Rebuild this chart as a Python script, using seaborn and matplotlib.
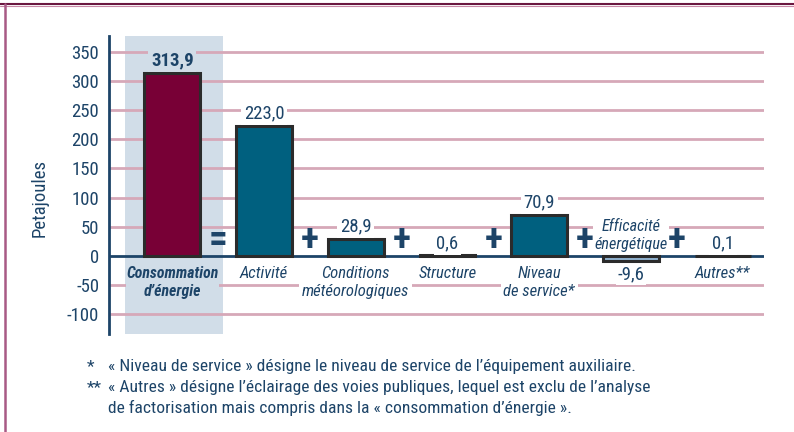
import pandas as pd
import matplotlib.pyplot as plt
import seaborn as sns
from matplotlib import font_manager
from matplotlib.lines import Line2D

# data (petajoules)
categories = ['Consommation\nd\u2019énergie', 'Activité', 'Conditions\nmétéorologiques',
              'Structure', 'Niveau\nde service*', 'Efficacité\nénergétique', 'Autres**']
values = [313.9, 223.0, 28.9, 0.6, 70.9, -9.6, 0.1]
value_labels = ['313,9', '223,0', '28,9', '0,6', '70,9', '-9,6', '0,1']
operators = ['=', '+', '+', '+', '+', '+']
bar_colors = ['#780036', '#00607f', '#00607f', '#00607f', '#00607f', '#8fb1cf', '#00607f']
y_ticks = [-100, -50, 0, 50, 100, 150, 200, 250, 300, 350]
footnotes = [
    ('*', '\u00ab Niveau de service \u00bb désigne le niveau de service de l\u2019équipement auxiliaire.'),
    ('**', '\u00ab Autres \u00bb désigne l\u2019éclairage des voies publiques, lequel est exclu de l\u2019analyse'),
    ('', 'de factorisation mais compris dans la \u00ab consommation d\u2019énergie \u00bb.'),
]

navy = '#1d4468'
grid_pink = '#d6a8b8'
band_blue = '#d1dde8'

sns.set_theme(style='white')
installed = {f.name for f in font_manager.fontManager.ttflist}
font = 'Roboto'
for name in ['Liberation Sans Narrow', 'Roboto Condensed', 'Open Sans Condensed', 'Roboto']:
    if name in installed:
        font = name
        break
plt.rcParams['font.family'] = [font, 'DejaVu Sans']
plt.rcParams['text.color'] = navy

fig = plt.figure(figsize=(7.94, 4.32), dpi=100)
ax = fig.add_axes([109 / 794, 1 - 334 / 432, 655 / 794, 298 / 432])

df = pd.DataFrame({'categorie': categories, 'valeur': values})
sns.barplot(data=df, x='categorie', y='valeur', hue='categorie', palette=bar_colors,
            saturation=1, legend=False, width=0.61, edgecolor='#2b2b2b', linewidth=2.2,
            ax=ax, zorder=4)

ax.set_xlim(-0.69, 6.45)
ax.set_ylim(-134.3, 377.5)

# highlighted first column
ax.axvspan(-0.52, 0.55, color=band_blue, zorder=0, lw=0)
for t in y_ticks:
    if t == 0:
        ax.axhline(0, color=navy, lw=2, zorder=3)
    else:
        ax.axhline(t, color=grid_pink, lw=2, zorder=1)

ax.set_yticks(y_ticks)
ax.set_yticklabels([str(t) for t in y_ticks], fontsize=13.5, color=navy)
ax.tick_params(axis='y', length=0, pad=7)
ax.set_xticks([])
ax.set_xlabel('')
ax.set_ylabel('')
for s in ['top', 'right', 'bottom']:
    ax.spines[s].set_visible(False)
ax.spines['left'].set_color(navy)
ax.spines['left'].set_linewidth(2)
fig.text(40 / 794, 1 - 198 / 432, 'Petajoules', rotation=90, fontsize=13.5,
         color=navy, ha='center', va='center')

for i, (cat, v, lab) in enumerate(zip(categories, values, value_labels)):
    box_col = band_blue if i == 0 else 'white'
    weight = 'bold' if i == 0 else 'normal'
    cat_size = 11.3 if i == 0 else 12
    box = dict(facecolor='white', edgecolor='none', pad=2)
    if v >= 0:
        ax.annotate(lab, (i, v), xytext=(0, 2.5), textcoords='offset points',
                    ha='center', va='bottom', fontsize=13.5, fontweight=weight,
                    color=navy, bbox=dict(box, facecolor=box_col), zorder=5)
        ax.annotate(cat, (i, 0), xytext=(0, -7), textcoords='offset points',
                    ha='center', va='top', fontsize=cat_size, fontstyle='italic',
                    fontweight=weight, color=navy, linespacing=1.3,
                    bbox=dict(box, facecolor=box_col, pad=0.5 if i == 0 else 2), zorder=5)
    else:
        ax.annotate(lab, (i, v), xytext=(0, -3), textcoords='offset points',
                    ha='center', va='top', fontsize=13.5, color=navy,
                    bbox=dict(box, pad=1), zorder=5)
        ax.annotate(cat, (i, 0), xytext=(0, 3), textcoords='offset points',
                    ha='center', va='bottom', fontsize=11.6, fontstyle='italic',
                    color=navy, linespacing=1.2, bbox=dict(box, pad=1), zorder=5)

for i, op in enumerate(operators):
    ax.annotate(op, (i + 0.5, 0), xytext=(0, 11), textcoords='offset points',
                ha='center', va='center', fontsize=27, fontweight='bold',
                color=navy, zorder=6)

for k, (mark, txt) in enumerate(footnotes):
    y = 1 - (367 + 20.7 * k) / 432
    if mark:
        fig.text(87 / 794, y, mark, fontsize=12.6, color=navy, ha='left', va='center')
    fig.text(108 / 794, y, txt, fontsize=12.6, color=navy, ha='left', va='center')

# frame lines
fig.add_artist(Line2D([0, 1], [1 - 4 / 432, 1 - 4 / 432], color='#6b1740', lw=1.5))
fig.add_artist(Line2D([0, 1], [1 - 5.5 / 432, 1 - 5.5 / 432], color='#c98aa8', lw=0.8))
fig.add_artist(Line2D([5 / 794, 5 / 794], [0, 1 - 4 / 432], color='#a85a85', lw=1.8))

fig.savefig('out.png', dpi=100, facecolor='white')
